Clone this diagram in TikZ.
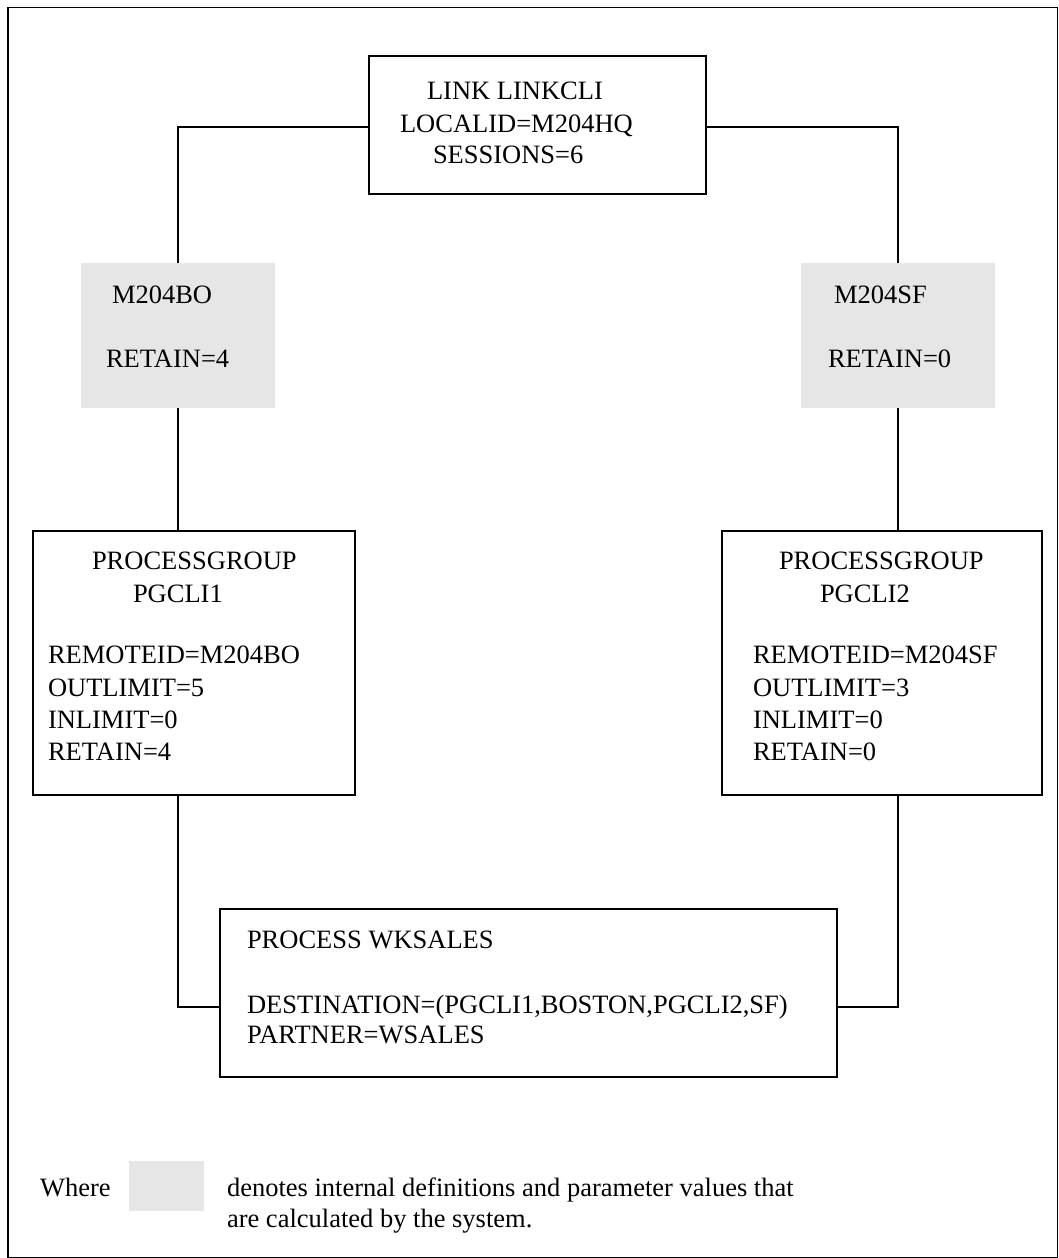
\documentclass[tikz,border=0pt]{standalone}
\usepackage{fontspec}
\setmainfont{Liberation Serif}
\definecolor{calcgray}{RGB}{230,230,230}
\tikzset{
  frameline/.style={line width=1.5pt},
  plainbox/.style={draw, line width=1.5pt, rectangle, inner sep=0pt, outer sep=0pt},
  calcbox/.style={fill=calcgray, rectangle, inner sep=0pt, outer sep=0pt},
  link/.style={line width=1.5pt},
  txt/.style={anchor=base west, inner sep=0pt, outer sep=0pt,
    font=\fontsize{26.5}{32}\selectfont}
}
\begin{document}
\begin{tikzpicture}[x=1pt,y=-1pt]
\useasboundingbox (0,0) rectangle (1058,1258);
% outer frame, its right and bottom sides running along the page edge
\begin{scope}
\clip (0,0) rectangle (1058,1258);
\draw[frameline] (8,7.5) rectangle (1057.4,1257.4);
\end{scope}

% boxes
\node[plainbox, minimum width=337pt, minimum height=138pt] (link) at (537.5,125) {};
\node[calcbox, minimum width=194pt, minimum height=145pt] (bo) at (178,335.5) {};
\node[calcbox, minimum width=194pt, minimum height=145pt] (sf) at (898,335.5) {};
\node[plainbox, minimum width=322pt, minimum height=264pt] (pg1) at (194,663) {};
\node[plainbox, minimum width=320pt, minimum height=264pt] (pg2) at (882,663) {};
\node[plainbox, minimum width=617pt, minimum height=168pt] (proc) at (528.5,993) {};
\node[calcbox, minimum width=75pt, minimum height=50pt] (legend) at (166.5,1186) {};

% connectors
\coordinate (jtop) at (537.5,127);
\coordinate (jrow) at (528.5,1007);
\draw[link] (link.west |- jtop) -| (bo.north);
\draw[link] (link.east |- jtop) -| (sf.north);
\draw[link] (bo.south) -- (bo.south |- pg1.north);
\draw[link] (sf.south) -- (sf.south |- pg2.north);
\draw[link] (bo.south |- pg1.south) |- (proc.west |- jrow);
\draw[link] (sf.south |- pg2.south) |- (proc.east |- jrow);

% LINK statement
\node[txt] (t1) at (427,99) {LINK LINKCLI};
\node[txt] (t2) at (400,132) {LOCALID=M204HQ};
\node[txt] (t3) at (433,163) {SESSIONS=6};

% derived remote definitions
\node[txt] (b1) at (112,303) {M204BO};
\node[txt] (b2) at (106,367) {RETAIN=4};
\node[txt] (s1) at (834,303) {M204SF};
\node[txt] (s2) at (828,367) {RETAIN=0};

% process groups
\node[txt] (p11) at (92,569) {PROCESSGROUP};
\node[txt] (p12) at (133,602) {PGCLI1};
\node[txt] (p13) at (48,663) {REMOTEID=M204BO};
\node[txt] (p14) at (48,696) {OUTLIMIT=5};
\node[txt] (p15) at (48,728) {INLIMIT=0};
\node[txt] (p16) at (48,760) {RETAIN=4};

\node[txt] (p21) at (779,569) {PROCESSGROUP};
\node[txt] (p22) at (820,602) {PGCLI2};
\node[txt] (p23) at (753,663) {REMOTEID=M204SF};
\node[txt] (p24) at (753,696) {OUTLIMIT=3};
\node[txt] (p25) at (753,728) {INLIMIT=0};
\node[txt] (p26) at (753,760) {RETAIN=0};

% process statement
\node[txt] (w1) at (247,948) {PROCESS WKSALES};
\node[txt] (w2) at (247,1013) {DESTINATION=(PGCLI1,BOSTON,PGCLI2,SF)};
\node[txt] (w3) at (247,1043) {PARTNER=WSALES};

% legend
\node[txt] (l1) at (40,1196) {Where};
\node[txt] (l2) at (227,1196) {denotes internal definitions and parameter values that};
\node[txt] (l3) at (227,1227) {are calculated by the system.};
\end{tikzpicture}
\end{document}
